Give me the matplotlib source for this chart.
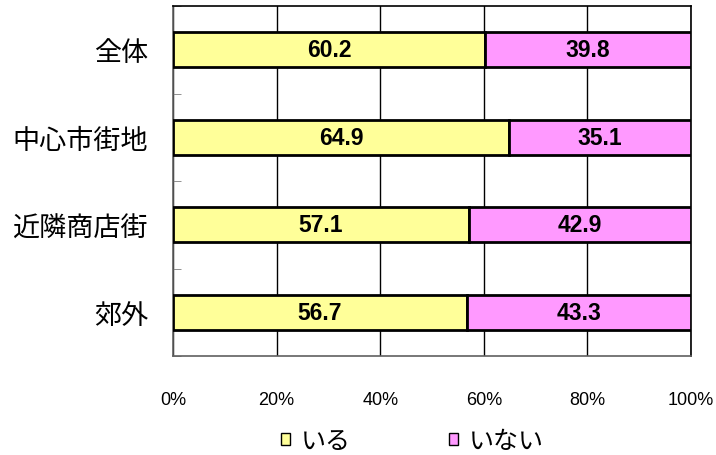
import matplotlib
matplotlib.use("Agg")
import matplotlib.pyplot as plt
from matplotlib.patches import Patch
import numpy as np

plt.rcParams['font.family'] = ['Noto Sans CJK JP', 'DejaVu Sans']

categories = ['全体', '中心市街地', '近隣商店街', '郊外']
iru = [60.2, 64.9, 57.1, 56.7]
inai = [39.8, 35.1, 42.9, 43.3]
series_names = ['いる', 'いない']
colors = ['#FFFF99', '#FF99FF']
xticks = [0, 20, 40, 60, 80, 100]

fig = plt.figure(figsize=(7.16, 4.56), dpi=100)
ax = fig.add_axes([173 / 716, 99 / 456, 518 / 716, 350 / 456])

y = np.arange(len(categories))
h = 0.4
b1 = ax.barh(y, iru, height=h, color=colors[0], edgecolor='black', linewidth=2, zorder=3)
b2 = ax.barh(y, inai, left=iru, height=h, color=colors[1], edgecolor='black', linewidth=2, zorder=3)

# value labels centred in each segment
for vals, lefts in ((iru, [0] * 4), (inai, iru)):
    for yi, v, l in zip(y, vals, lefts):
        ax.text(l + v / 2, yi, f'{v:.1f}', ha='center', va='center',
                fontsize=16.5, fontweight='bold',
                family=['Liberation Sans', 'DejaVu Sans'], zorder=4)

ax.set_xlim(0, 100)
ax.set_ylim(len(categories) - 0.5, -0.5)
ax.set_xticks(xticks)
ax.set_xticklabels([f'{t}%' for t in xticks], fontsize=13,
                   family=['Liberation Sans', 'DejaVu Sans'])
ax.tick_params(axis='x', length=0, pad=25)
ax.set_yticks(y)
ax.set_yticklabels(categories, fontsize=19.5)
ax.tick_params(axis='y', which='major', length=0, pad=18)
ax.set_yticks(np.arange(-0.5, len(categories)), minor=True)
ax.tick_params(axis='y', which='minor', direction='in', length=6, color='#808080')

ax.grid(axis='x', color='black', linewidth=1, zorder=1)
for side in ('top', 'right'):
    ax.spines[side].set_color('black')
for side in ('left', 'bottom'):
    ax.spines[side].set_color('#606060')
for s in ax.spines.values():
    s.set_linewidth(1.2)

handles = [Patch(facecolor=c, edgecolor='black', linewidth=1) for c in colors]
fig.legend(handles, series_names, loc='center', bbox_to_anchor=(0.576, 0.03),
           ncol=2, frameon=False, fontsize=18, handlelength=0.36, handleheight=0.36,
           handletextpad=0.45, columnspacing=3.9, borderpad=0)

fig.savefig('out.png', dpi=100)
